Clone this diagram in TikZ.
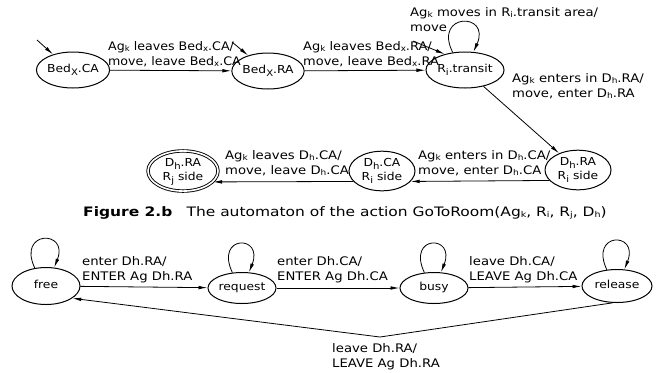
\documentclass[tikz,border=0pt]{standalone}
\usepackage{fontspec}
\usepackage{graphicx}
\setmainfont{DejaVu Sans}
\usetikzlibrary{arrows.meta,shapes.geometric}
% small lowered index letters
\newcommand\lsub[1]{\raisebox{-0.2ex}{\fontsize{8bp}{8bp}\selectfont #1}}
\newcommand\nsub[1]{\raisebox{-0.45ex}{\fontsize{9bp}{9bp}\selectfont #1}}
% widened text blocks
\newcommand\mylab[3][1.12]{\scalebox{#1}[1]{\begin{tabular}{@{}l@{}}#2\\#3\end{tabular}}}
\newcommand\mystate[1]{\scalebox{1.12}[1]{\begin{tabular}{@{}c@{}}#1\end{tabular}}}
\tikzset{
  state/.style={ellipse, draw, line width=1bp, minimum width=68bp, minimum height=36bp,
    inner sep=0pt, font=\fontsize{11bp}{14bp}\selectfont},
  lowstate/.style={state, minimum height=31bp},
  final/.style={state, double, double distance=1.6bp, line width=0.9bp},
  lbl/.style={inner sep=0pt, anchor=west, font=\fontsize{11.8bp}{15bp}\selectfont},
  edge/.style={-{Latex[length=9bp,width=3.6bp]}, line width=0.8bp},
}
\begin{document}
\begin{tikzpicture}[x=1bp,y=-1bp]
\useasboundingbox (0,0) rectangle (666,372);

% ---- GoToRoom automaton ----
\node[state] (bca) at (73,70) {\mystate{Bed\nsub{X}.CA}};
\node[state] (bra) at (268,71) {\mystate{Bed\nsub{X}.RA}};
\node[state, minimum width=70bp] (rt) at (465,70) {\mystate{R\nsub{i}.transit}};
\node[state, minimum width=66bp] (dra) at (578,170) {\mystate{D\nsub{h}.RA\\R\nsub{i} side}};
\node[state, minimum width=66bp] (dca) at (382,171) {\mystate{D\nsub{h}.CA\\R\nsub{i} side}};
\node[final, minimum width=70bp] (fin) at (183,171) {\mystate{D\nsub{h}.RA\\R\nsub{j} side}};

\coordinate (i1) at (37,40);
\coordinate (i2) at (232,42);
\coordinate (i3) at (413,41);
\draw[edge] (i1) -- (bca.142);
\draw[edge] (i2) -- (bra.142);
\draw[edge] (i3) -- (rt.142);

\draw[edge] (bca) -- (bra);
\draw[edge] (bra) -- (rt);
\draw[edge] (rt.125) .. controls +(-20,-40) and +(18,-40) .. (rt.65);
\draw[edge] (rt) -- (dra);
\draw[edge] (dra.200) -- (dca.340);
\draw[edge] (dca.200) -- (fin.340);

\node[lbl] (l1) at (108,55) {\mylab[1.07]{Ag\lsub{k} leaves Bed\lsub{x}.CA/}{move, leave Bed\lsub{x}.CA}};
\node[lbl] (l2) at (303,55) {\mylab[1.1]{Ag\lsub{k} leaves Bed\lsub{x}.RA/}{move, leave Bed\lsub{x}.RA}};
\node[lbl] (l3) at (410,21) {\mylab{Ag\lsub{k} moves in R\lsub{i}.transit area/}{move}};
\node[lbl] (l4) at (512,87) {\mylab{Ag\lsub{k} enters in D\lsub{h}.RA/}{move, enter D\lsub{h}.RA}};
\node[lbl] (l5) at (418,164) {\mylab{Ag\lsub{k} enters in D\lsub{h}.CA/}{move, enter D\lsub{h}.CA}};
\node[lbl] (l6) at (225,164) {\mylab{Ag\lsub{k} leaves D\lsub{h}.CA/}{move, leave D\lsub{h}.CA}};

\node[anchor=west, inner sep=0pt, font=\fontsize{13bp}{14bp}\selectfont] (cap) at (83,213)
  {\scalebox{1.19}[1]{\textbf{Figure 2.b}\hspace{0.6em} The automaton of the action GoToRoom(Ag\lsub{k}, R\lsub{i}, R\lsub{j}, D\lsub{h})}};

% ---- door automaton ----
\node[state, minimum height=37bp] (free) at (46,286) {\mystate{free}};
\node[lowstate] (req) at (242,288) {\mystate{request}};
\node[lowstate] (busy) at (434,288) {\mystate{busy}};
\node[lowstate, minimum width=70bp, minimum height=33bp] (rel) at (617,286) {\mystate{release}};

\foreach \s in {free,req,busy,rel}
  \draw[edge] (\s.122) .. controls +(-18,-38) and +(15,-38) .. (\s.66);

\draw[edge] (free) -- (req);
\draw[edge] (req) -- (busy);
\draw[edge] (busy) -- (rel);
\coordinate (bend) at (380,337);
\draw[edge] (rel.255) -- (bend) -- (free.335);

\node[lbl] (b1) at (82,270) {\mylab{enter Dh.RA/}{ENTER Ag Dh.RA}};
\node[lbl] (b2) at (277,270) {\mylab{enter Dh.CA/}{ENTER Ag Dh.CA}};
\node[lbl] (b3) at (469,270) {\mylab{leave Dh.CA/}{LEAVE Ag Dh.CA}};
\node[lbl] (b4) at (332,357) {\mylab{leave Dh.RA/}{LEAVE Ag Dh.RA}};
\end{tikzpicture}
\end{document}
